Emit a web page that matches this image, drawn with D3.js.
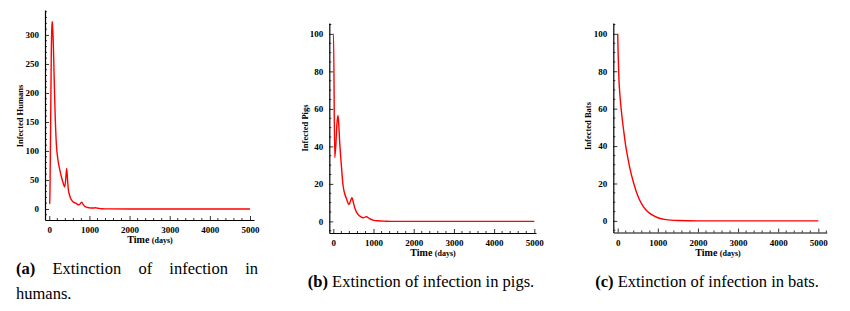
<!DOCTYPE html>
<html>
<head>
<meta charset="utf-8">
<script src="https://cdn.jsdelivr.net/npm/d3@7"></script>
<style>
  body { margin: 0; background: #fff; }
  svg { display: block; }
  text { font-family: "Liberation Serif", "Times New Roman", serif; }
</style>
</head>
<body>
<svg id="chart" width="850" height="311"></svg>
<script>
// time points (days) and infected counts
var humansT = [0, 10, 30, 50, 65, 75, 85, 100, 120, 142, 175, 217, 260, 300, 340, 383, 405, 433, 455, 475, 500, 533, 580, 658, 740, 806, 850, 906, 1000, 1080, 1150, 1220, 1300, 1500, 2000, 5000];
var humansV = [9, 10, 120, 270, 315, 323, 310, 286, 230, 171, 113, 84, 68, 56, 46, 38, 48, 70, 50, 33, 25, 18, 13, 10, 7, 11.5, 7, 3.5, 2, 1.6, 2, 1.2, 0.5, 0.1, 0, 0];

var pigsT = [0, 5, 35, 60, 90, 117, 140, 158, 200, 241, 280, 324, 390, 430, 465, 500, 532, 614, 680, 739, 821, 900, 988, 1100, 1300, 1600, 5000];
var pigsV = [100, 100, 34, 40, 52, 56.5, 50, 42.5, 30, 19.4, 15, 12.3, 9, 11, 12.6, 10, 7.3, 3.7, 2.5, 1.9, 2.5, 1.5, 0.7, 0.3, 0.1, 0, 0];

var batsT = [0, 10, 30, 60, 100, 150, 200, 250, 300, 400, 500, 600, 700, 800, 1000, 1200, 1500, 2000, 5000];
var batsV = [100, 90, 76, 66, 57, 48, 40, 34, 28.5, 20, 13.5, 9, 6, 4, 1.7, 0.7, 0.2, 0, 0];

var xTicks = [0, 1000, 2000, 3000, 4000, 5000];
var humansTicks = [0, 50, 100, 150, 200, 250, 300];
var animalTicks = [0, 20, 40, 60, 80, 100];

var svg = d3.select("#chart");

var panels = [
  {t: humansT, v: humansV, ylab: "Infected Humans", yTicks: humansTicks, yMinor: 10, xMinor: 200,
   xdom: [-107, 5100], xr: [45, 254], ydom: [-19, 343], yr: [220, 10], ylx: 23, yly: 116, xlx: 150, xly: 243},
  {t: pigsT, v: pigsV, ylab: "Infected Pigs", yTicks: animalTicks, yMinor: 5, xMinor: 200,
   xdom: [-100, 5042], xr: [329.3, 536], ydom: [-6.2, 105.8], yr: [233, 23], ylx: 308, yly: 128, xlx: 433, xly: 256},
  {t: batsT, v: batsV, ylab: "Infected Bats", yTicks: animalTicks, yMinor: 5, xMinor: 200,
   xdom: [-110, 5209], xr: [613.3, 826.7], ydom: [-6.2, 105.8], yr: [232.5, 23], ylx: 591, yly: 126, xlx: 718, xly: 256}
];

panels.forEach(function(p){
  var x = d3.scaleLinear().domain(p.xdom).range(p.xr);
  var y = d3.scaleLinear().domain(p.ydom).range(p.yr);
  var g = svg.append("g");

  // minor ticks first, then axes with major ticks (pointing inward)
  var yMinors = d3.range(Math.ceil(p.ydom[0] / p.yMinor) * p.yMinor, p.ydom[1], p.yMinor)
      .filter(function(d){ return p.yTicks.indexOf(d) < 0; });
  var xMinors = d3.range(Math.ceil(p.xdom[0] / p.xMinor) * p.xMinor, p.xdom[1], p.xMinor)
      .filter(function(d){ return xTicks.indexOf(d) < 0; });

  g.selectAll(".yminor").data(yMinors).enter().append("line")
      .attr("x1", p.xr[0]).attr("x2", p.xr[0] + 2)
      .attr("y1", function(d){ return y(d); }).attr("y2", function(d){ return y(d); })
      .attr("stroke", "#000").attr("stroke-width", 0.8);
  g.selectAll(".xminor").data(xMinors).enter().append("line")
      .attr("y1", p.yr[0]).attr("y2", p.yr[0] - 2)
      .attr("x1", function(d){ return x(d); }).attr("x2", function(d){ return x(d); })
      .attr("stroke", "#000").attr("stroke-width", 0.8);

  var yAxis = d3.axisLeft(y).tickValues(p.yTicks).tickFormat(d3.format("d"))
      .tickSizeInner(-4).tickSizeOuter(0).tickPadding(6);
  var xAxis = d3.axisBottom(x).tickValues(xTicks).tickFormat(d3.format("d"))
      .tickSizeInner(-4).tickSizeOuter(0).tickPadding(7);

  var ya = g.append("g").attr("transform", "translate(" + p.xr[0] + ",0)").call(yAxis);
  var xa = g.append("g").attr("transform", "translate(0," + p.yr[0] + ")").call(xAxis);
  [ya, xa].forEach(function(a){
    a.select(".domain").attr("stroke", "#000").attr("stroke-width", 1.2);
    a.selectAll(".tick line").attr("stroke", "#000").attr("stroke-width", 0.8);
    a.selectAll(".tick text")
      .attr("font-family", "Liberation Serif, serif")
      .attr("font-weight", "bold").attr("font-size", 9).attr("fill", "#000");
  });

  var pts = p.t.map(function(d, i){ return [d, p.v[i]]; });
  var line = d3.line()
      .x(function(d){ return x(d[0]); })
      .y(function(d){ return y(d[1]); })
      .curve(d3.curveMonotoneX);
  g.append("path").datum(pts)
      .attr("d", line)
      .attr("fill", "none").attr("stroke", "#ff0000").attr("stroke-width", 1.4);

  g.append("text")
      .attr("transform", "translate(" + p.ylx + "," + p.yly + ") rotate(-90)")
      .attr("text-anchor", "middle").attr("font-weight", "bold").attr("font-size", 8.5)
      .text(p.ylab);

  var xl = g.append("text").attr("x", p.xlx).attr("y", p.xly)
      .attr("text-anchor", "middle").attr("font-weight", "bold");
  xl.append("tspan").attr("font-size", 10).text("Time ");
  xl.append("tspan").attr("font-size", 8).text("(days)");
});

// captions
var capSize = 16.5;
function caption(label, rest, x, y, anchor){
  var t = svg.append("text").attr("x", x).attr("y", y).attr("font-size", capSize)
      .attr("text-anchor", anchor || "start");
  t.append("tspan").attr("font-weight", "bold").text(label);
  t.append("tspan").text(" " + rest);
  return t;
}

// (a) justified over two lines
var line1 = ["(a)", "Extinction", "of", "infection", "in"];
var x0 = 16, x1 = 258, yA = 274;
var widths = line1.map(function(w, i){
  var tt = svg.append("text").attr("font-size", capSize).attr("font-weight", i == 0 ? "bold" : "normal").text(w);
  var wd = tt.node().getComputedTextLength();
  tt.remove();
  return wd;
});
var gap = (x1 - x0 - d3.sum(widths)) / (line1.length - 1);
var cx = x0;
line1.forEach(function(w, i){
  svg.append("text").attr("x", cx).attr("y", yA).attr("font-size", capSize)
      .attr("font-weight", i == 0 ? "bold" : "normal").text(w);
  cx += widths[i] + gap;
});
svg.append("text").attr("x", x0).attr("y", 299).attr("font-size", capSize).text("humans.");

caption("(b)", "Extinction of infection in pigs.", 421, 287, "middle");
caption("(c)", "Extinction of infection in bats.", 707, 287, "middle");
</script>
</body>
</html>
